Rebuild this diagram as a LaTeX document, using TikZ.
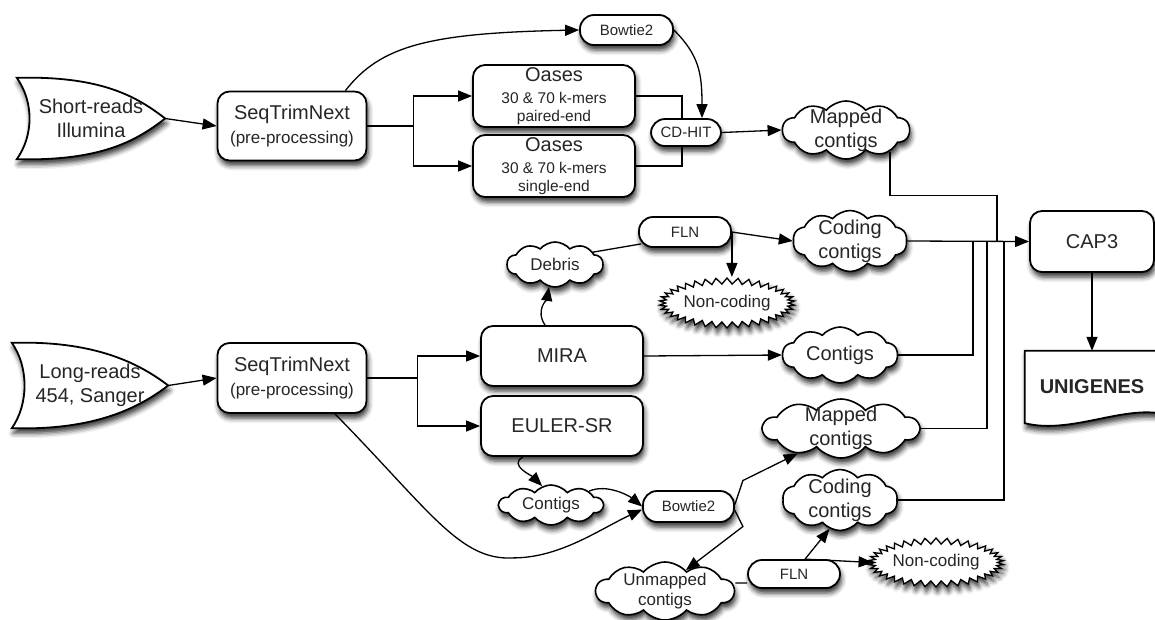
\documentclass[tikz,border=0pt]{standalone}
\usepackage{fontspec}
\setmainfont{Liberation Sans}
\usetikzlibrary{arrows.meta, shapes.symbols, shadows.blur, backgrounds}

\newcommand{\readsoutline}[1]{%
  \draw[outline] (#1.north west) -- ++(23,0) .. controls +(70,2) and +(-25,-19) .. (#1.east)
    .. controls +(-25,19) and +(70,-2) .. ([xshift=23pt]#1.south west) -- (#1.south west)
    .. controls +(17,-24) and +(17,24) .. cycle;}
\newcommand{\kmerfont}{\fontsize{15.5}{18}\selectfont}

\begin{document}
\begin{tikzpicture}[x=1pt, y=-1pt, inner sep=0pt,
	shade/.style={blur shadow={shadow xshift=1.5pt, shadow yshift=-5pt, shadow blur radius=5pt, shadow opacity=80}},
	big/.style={font=\fontsize{20}{24}\selectfont},
	mid/.style={font=\fontsize{17}{20}\selectfont},
	box/.style={draw, line width=1.8pt, fill=white, rounded corners=12pt, align=center, text=black!85, shade},
	pill/.style={box, rounded corners=14pt, font=\fontsize{15}{18}\selectfont},
	puff/.style={cloud, cloud puffs=10, cloud puff arc=100, cloud ignores aspect, draw, line width=1.6pt, fill=white, align=center, text=black!85, inner xsep=-8pt, inner ysep=-10pt, shade},
	burst/.style={starburst, starburst points=38, starburst point height=6pt, random starburst=0, draw, line width=1.3pt, fill=white, text=black!85, mid, shade},
	outline/.style={draw, line width=1.8pt, fill=white, shade},
	link/.style={line width=1.3pt},
	arr/.style={link, -{Triangle[length=14pt,width=11pt]}}]
	\useasboundingbox (0,0) rectangle (1155,619);

	% short reads
	\node (sr) [big, align=center, text=black!85, minimum width=148pt, minimum height=81pt] at (91,118.5) {Short-reads\\Illumina};
	\node (stn1) [box, big, minimum width=149pt, minimum height=69pt] at (292,126) {SeqTrimNext\\\fontsize{17}{24}\selectfont(pre-processing)};
	\node (oasesPE) [box, big, minimum width=162pt, minimum height=62pt] at (554,96) {Oases\\[-2.5pt]\kmerfont 30 \& 70 k-mers\\[-6pt]\kmerfont paired-end};
	\node (oasesSE) [box, big, minimum width=162pt, minimum height=62pt] at (554,166) {Oases\\[-2.5pt]\kmerfont 30 \& 70 k-mers\\[-6pt]\kmerfont single-end};
	\node (bowtieA) [pill, minimum width=93pt, minimum height=30pt] at (626.5,30) {Bowtie2};
	\node (cdhit) [pill, minimum width=70pt, minimum height=27pt] at (686,132.5) {CD-HIT};
	\node (mapA) [puff, big, minimum width=127pt, minimum height=58pt] at (846,130) {Mapped\\contigs};

	% long reads
	\node (lr) [big, align=center, text=black!85, minimum width=156pt, minimum height=85pt] at (90,385.5) {Long-reads\\454, Sanger};
	\node (stn2) [box, big, minimum width=149pt, minimum height=70pt] at (292,378) {SeqTrimNext\\\fontsize{17}{24}\selectfont(pre-processing)};
	\node (mira) [box, big, minimum width=162pt, minimum height=60pt] at (562,356) {MIRA};
	\node (euler) [box, big, minimum width=162pt, minimum height=60pt] at (562,426) {EULER-SR};
	\node (debris) [puff, mid, minimum width=96pt, minimum height=45pt] at (555,264.5) {Debris};
	\node (flnA) [pill, minimum width=92pt, minimum height=30pt] at (685,232) {FLN};
	\node (codA) [puff, big, minimum width=114pt, minimum height=61pt] at (850,241) {Coding\\contigs};
	\node (nonA) [burst, minimum width=131pt, minimum height=50pt] at (727,303) {Non-coding};
	\node (contigsB) [puff, big, minimum width=115pt, minimum height=56pt] at (840,355) {Contigs};
	\node (contigsS) [puff, mid, minimum width=104pt, minimum height=40pt] at (551,505) {Contigs};
	\node (bowtieB) [pill, minimum width=91pt, minimum height=31pt] at (688.5,506.5) {Bowtie2};
	\node (mapB) [puff, big, minimum width=156pt, minimum height=59pt] at (841,428.5) {Mapped\\contigs};
	\node (codB) [puff, big, minimum width=115pt, minimum height=61pt] at (840,500) {Coding\\contigs};
	\node (unmapped) [puff, mid, minimum width=138pt, minimum height=58pt] at (665,591) {Unmapped\\contigs};
	\node (flnB) [pill, minimum width=92pt, minimum height=28pt] at (794,574) {FLN};
	\node (nonB) [burst, minimum width=132pt, minimum height=49pt] at (936,562.5) {Non-coding};

	% assembly
	\node (cap3) [box, big, minimum width=124pt, minimum height=61pt] at (1092,241.5) {CAP3};
	\node (unig) [big, text=black!85, font=\bfseries\fontsize{20}{24}\selectfont, minimum width=134pt, minimum height=72pt] at (1092,387) {UNIGENES};

	\begin{scope}[on background layer]
		\readsoutline{sr}
		\readsoutline{lr}
		\draw[outline] (unig.north west) -- (unig.north east) -- ([yshift=10pt]unig.south east)
			.. controls +(-40,-6) and +(44,11) .. (unig.south west) -- cycle;
	\end{scope}

	\path[arr] (sr.east) edge (stn1.west);
	\draw[link] (stn1.east) -- ++(46,0) coordinate (fork1);
	\draw[arr] (fork1) |- (oasesPE.west);
	\draw[arr] (fork1) |- (oasesSE.west);
	\draw[arr] ([xshift=-22pt]stn1.north east) .. controls +(35,-45) and +(-150,3) .. (bowtieA.west);
	\draw[arr] (bowtieA.east) .. controls +(25,25) and +(0,-45) .. ([xshift=16pt]cdhit.north);
	\draw[link] (oasesPE.east) -| ([xshift=-4pt]cdhit.north);
	\draw[link] (oasesSE.east) -| ([xshift=-4pt]cdhit.south);
	\path[arr] (cdhit.east) edge (mapA.west);
	\draw[link] (mapA.-26) -- ++(0,44) -| ([xshift=-32pt]cap3.west);

	\path[arr] (lr.east) edge (stn2.west);
	\draw[link] (stn2.east) -- ++(50,0) coordinate (fork2);
	\draw[arr] (fork2) |- (mira.west);
	\draw[arr] (fork2) |- (euler.west);
	\draw[arr] ([xshift=-17pt]mira.north) .. controls +(-10,-15) and +(-2,12) .. (debris.-105);
	\draw[link] (debris.18) -- ([xshift=3pt,yshift=4pt]flnA.south west);
	\path[arr] (flnA.east) edge (codA.west);
	\draw[arr] (flnA.east) -- (flnA.east |- nonA.north);
	\path[arr] (mira.east) edge (contigsB.west);
	\draw[arr] ([xshift=-39pt]euler.south) .. controls +(-15,8) and +(-10,-10) .. (contigsS.115);
	\draw[arr] (contigsS.20) .. controls +(18,-8) and +(-12,-10) .. (bowtieB.west);
	\draw[arr] ([xshift=43pt]stn2.south) .. controls +(95,97) and +(-53,3) .. ++(178,144)
		.. controls +(47,0) and +(-43,20) .. ([yshift=-3pt]bowtieB.west);
	\draw[arr] ([yshift=2pt]bowtieB.east) -- ++(8,-24) -- (mapB.-150);
	\draw[arr] ([yshift=-4pt]bowtieB.east) -- ++(8,16) -- (unmapped.45);
	\draw[link] ([yshift=8pt]unmapped.east) -- ([yshift=-9pt]flnB.west);
	\draw[arr] ([xshift=11pt]flnB.north) -- (codB.-110);
	\draw[arr] ([xshift=11pt]flnB.north) -- (nonB.west);

	% into CAP3
	\path[arr] (codA.east) edge (cap3.west);
	\draw[link] (contigsB.east) -| ([xshift=-56pt]cap3.west);
	\draw[link] (mapB.east) -| ([xshift=-42pt]cap3.west);
	\draw[link] (codB.east) -| ([xshift=-25pt]cap3.west);
	\path[arr] (cap3.south) edge (unig.north);
\end{tikzpicture}
\end{document}
